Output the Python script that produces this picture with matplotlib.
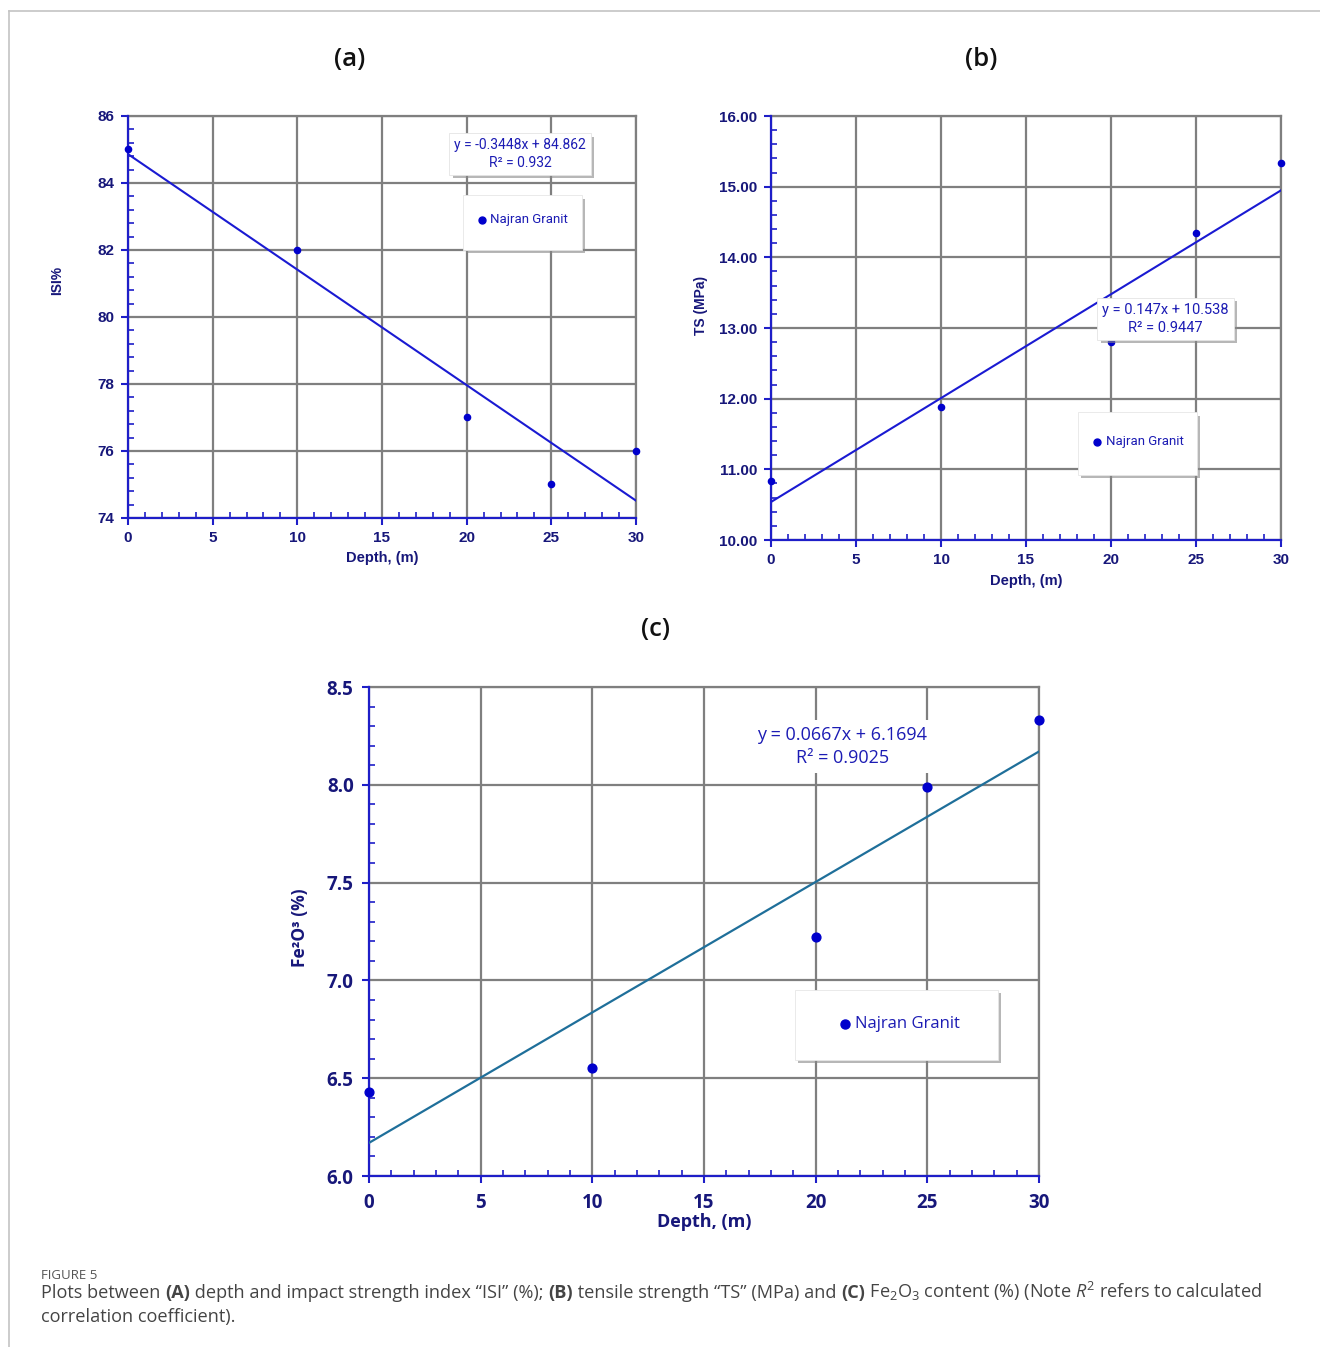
import matplotlib
matplotlib.use("Agg")
import matplotlib.pyplot as plt
import numpy as np
from matplotlib.ticker import MultipleLocator, FormatStrFormatter
from matplotlib.lines import Line2D
from matplotlib.patches import Rectangle
import matplotlib.patheffects as pe

plt.rcParams['mathtext.fontset'] = 'custom'
plt.rcParams['mathtext.rm'] = 'Open Sans'
plt.rcParams['mathtext.it'] = 'Open Sans:italic'
plt.rcParams['mathtext.bf'] = 'Open Sans:bold'

# ---------------- data ----------------
depth = [0, 10, 20, 25, 30]
isi = [85, 82, 77, 75, 76]
ts = [10.83, 11.88, 12.80, 14.35, 15.33]
fe2o3 = [6.43, 6.55, 7.22, 7.99, 8.33]

isi_slope, isi_icpt, isi_r2 = -0.3448, 84.862, "0.932"
ts_slope, ts_icpt, ts_r2 = 0.147, 10.538, "0.9447"
fe_slope, fe_icpt, fe_r2 = 0.0667, 6.1694, "0.9025"

series_label = "Najran Granit"
x_label = "Depth, (m)"

W, H = 1320, 1347
fig = plt.figure(figsize=(W / 100, H / 100), dpi=100)

BLUE = '#1e1ec8'
NAVY = '#17177a'
GRID = '#7f7f7f'
PT = '#0000cc'
TXT = '#1c1cb4'
SMALLF = 'Liberation Sans'


def px_axes(l, t, r, b):
    return fig.add_axes([l / W, 1 - b / H, (r - l) / W, (b - t) / H])


def style(ax, xlim, ylim, ymaj, ymin, yfmt, fs, family, xpad, ypad):
    ax.set_xlim(*xlim)
    ax.set_ylim(*ylim)
    ax.xaxis.set_major_locator(MultipleLocator(5))
    ax.xaxis.set_minor_locator(MultipleLocator(1))
    ax.yaxis.set_major_locator(MultipleLocator(ymaj))
    ax.yaxis.set_minor_locator(MultipleLocator(ymin))
    ax.yaxis.set_major_formatter(FormatStrFormatter(yfmt))
    ax.grid(True, which='major', color=GRID, lw=1.6)
    ax.set_axisbelow(True)
    for s in ['top', 'right']:
        ax.spines[s].set_color(GRID)
        ax.spines[s].set_linewidth(1.6)
    for s in ['left', 'bottom']:
        ax.spines[s].set_color(BLUE)
        ax.spines[s].set_linewidth(1.6)
        ax.spines[s].set_zorder(3)
    ax.tick_params(which='major', direction='out', length=5, width=1.5, color=BLUE,
                   labelsize=fs, labelcolor=NAVY)
    ax.tick_params(which='minor', direction='in', length=4, width=1.2, color=BLUE)
    ax.tick_params(axis='x', which='major', pad=xpad)
    ax.tick_params(axis='y', which='major', pad=ypad)
    for lab in ax.get_xticklabels() + ax.get_yticklabels():
        lab.set_fontweight('bold')
        lab.set_family(family)


def eq_box(ax, x, y, txt, fs, family, box=True, weight='normal'):
    t = ax.text(x, y, txt, ha='center', va='center', multialignment='center',
                fontsize=fs, color=TXT, family=family, zorder=6, fontweight=weight,
                linespacing=1.35,
                bbox=dict(boxstyle='square,pad=0.35', fc='white',
                          ec='#e4e4e4' if box else 'none', lw=0.6))
    if box:
        t.get_bbox_patch().set_path_effects(
            [pe.withSimplePatchShadow(offset=(2.5, -2.5), shadow_rgbFace='#888888', alpha=0.6)])
    return t


def legend_box(ax, x0, x1, y0, y1, mx, my, tx, fs, family, ms):
    r = Rectangle((x0, y0), x1 - x0, y1 - y0, fc='white', ec='#e6e6e6', lw=0.6, zorder=6,
                  path_effects=[pe.withSimplePatchShadow(offset=(2.5, -2.5),
                                                         shadow_rgbFace='#888888', alpha=0.6)])
    ax.add_patch(r)
    ax.plot([mx], [my], 'o', ms=ms, color=PT, zorder=7)
    ax.text(tx, my, series_label, ha='left', va='center', fontsize=fs, family=family,
            color=TXT, zorder=7)


# ---------------- (a) ----------------
axa = px_axes(128, 116, 636, 518)
style(axa, (0, 30), (74, 86), 2, 0.4, '%d', 11, SMALLF, 4.5, 5)
xs = np.array([0, 30])
axa.plot(xs, isi_slope * xs + isi_icpt, color='#1a1ad2', lw=1.5, zorder=4)
axa.scatter(depth, isi, s=20, color=PT, zorder=5, clip_on=False, label=series_label)
eq_box(axa, 23.15, 84.87, f"y = {isi_slope}x + {isi_icpt}\nR² = {isi_r2}", 10, 'Roboto')
legend_box(axa, 19.78, 26.8, 82.0, 83.64, 20.9, 82.9, 21.38, 9.5, 'Roboto', 5)

# ---------------- (b) ----------------
axb = px_axes(771, 116, 1281, 540)
style(axb, (0, 30), (10, 16), 1, 0.2, '%.2f', 11, SMALLF, 4.5, 5)
axb.plot(xs, ts_slope * xs + ts_icpt, color='#1a1ad2', lw=1.5, zorder=4)
axb.scatter(depth, ts, s=20, color=PT, zorder=5, clip_on=False, label=series_label)
eq_box(axb, 23.2, 13.13, f"y = {ts_slope}x + {ts_icpt}\nR² = {ts_r2}", 10.5, 'Roboto')
legend_box(axb, 18.06, 25.06, 10.92, 11.81, 19.2, 11.39, 19.7, 9.5, 'Roboto', 5)

# ---------------- (c) ----------------
axc = px_axes(369, 687, 1039, 1176)
style(axc, (0, 30), (6.0, 8.5), 0.5, 0.1, '%.1f', 13.5, 'Open Sans', 7, 6)
axc.plot(xs, fe_slope * xs + fe_icpt, color='#1f6f9a', lw=1.6, zorder=4)
axc.scatter(depth, fe2o3, s=40, color=PT, zorder=5, clip_on=False, label=series_label)
eq_box(axc, 21.2, 8.195, f"y = {fe_slope}x + {fe_icpt}\nR² = {fe_r2}", 13, 'Open Sans',
       box=False, weight='medium')
legend_box(axc, 19.07, 28.15, 6.593, 6.951, 21.3, 6.777, 21.76, 12, 'Open Sans', 6.5)

# ---------------- titles & labels ----------------
for txt, x, y in [("(a)", 350, 60), ("(b)", 981, 60), ("(c)", 656, 630)]:
    fig.text(x / W, 1 - y / H, txt, ha='center', va='center', fontsize=18.5, color='#111111',
             family='Open Sans', fontweight='semibold')

fig.text(382 / W, 1 - 558 / H, x_label, ha='center', va='center', fontsize=10.5,
         color=NAVY, fontweight='bold', family=SMALLF)
fig.text(1026 / W, 1 - 581 / H, x_label, ha='center', va='center', fontsize=10.5,
         color=NAVY, fontweight='bold', family=SMALLF)
fig.text(704 / W, 1 - 1222 / H, x_label, ha='center', va='center', fontsize=13,
         color=NAVY, fontweight='bold', family='Open Sans')
fig.text(57 / W, 1 - 280 / H, "ISI%", ha='center', va='center', rotation=90, fontsize=10,
         color=NAVY, fontweight='bold', family=SMALLF)
fig.text(701 / W, 1 - 305 / H, "TS (MPa)", ha='center', va='center', rotation=90, fontsize=10,
         color=NAVY, fontweight='bold', family=SMALLF)
fig.text(300 / W, 1 - 928 / H, "Fe²O³ (%)", ha='center', va='center', rotation=90, fontsize=12.5,
         color=NAVY, fontweight='bold', family='Open Sans')

# ---------------- frame ----------------
fig.add_artist(Line2D([9 / W, 1], [1 - 11 / H] * 2, color='#c4c4c4', lw=1.2))
fig.add_artist(Line2D([9 / W] * 2, [0, 1 - 11 / H], color='#c4c4c4', lw=1.2))

# ---------------- caption ----------------
fig.text(41 / W, 1 - 1279 / H, "FIGURE 5", ha='left', va='baseline', fontsize=9.5,
         color='#555555', family='Open Sans')

renderer = fig.canvas.get_renderer()
CAP = '#444444'
CFS = 13.1


def seg_line(segs, x0, ybase):
    x = x0
    bar = fig.text(0, 0, "|", fontsize=CFS, family='Open Sans')
    wbar = bar.get_window_extent(renderer).width
    bar.remove()
    for s, w in segs:
        fig.text(x / W, 1 - ybase / H, s, ha='left', va='baseline', fontsize=CFS,
                 color=CAP, family='Open Sans', fontweight=w)
        probe = fig.text(0, 0, s + "|", fontsize=CFS, family='Open Sans', fontweight=w)
        x += probe.get_window_extent(renderer).width - wbar
        probe.remove()


line1 = [("Plots between ", 'normal'), ("(A)", 'bold'),
         (" depth and impact strength index “ISI” (%); ", 'normal'), ("(B)", 'bold'),
         (" tensile strength “TS” (MPa) and ", 'normal'), ("(C)", 'bold'),
         (" Fe$_2$O$_3$ content (%) (Note $R^2$ refers to calculated", 'normal')]
seg_line(line1, 41, 1298)
seg_line([("correlation coefficient).", 'normal')], 41, 1322)

fig.savefig("out.png", dpi=100)
